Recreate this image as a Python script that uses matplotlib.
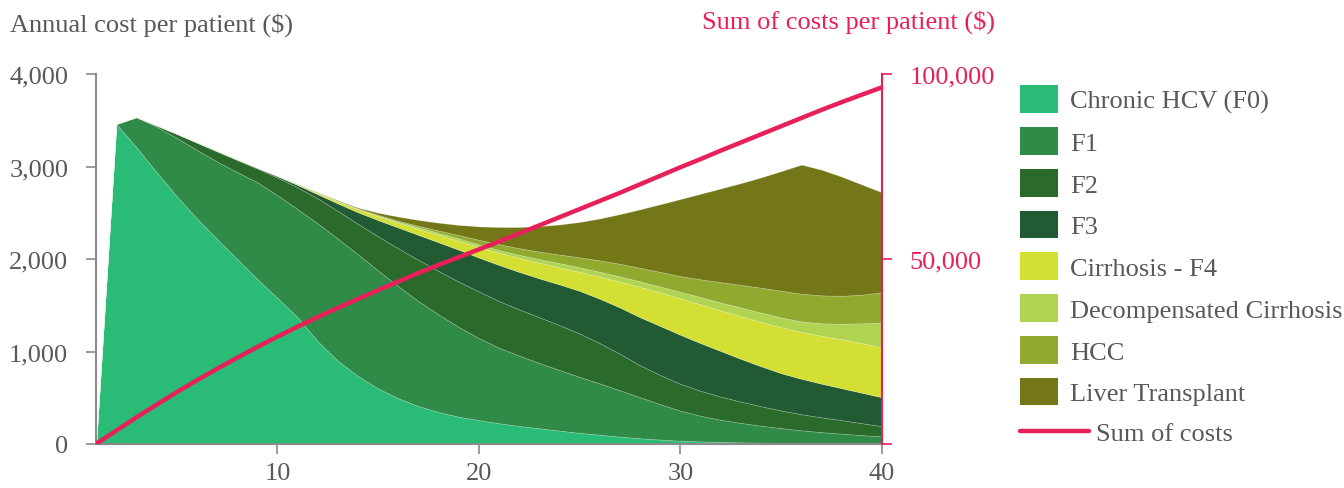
import matplotlib
matplotlib.use("Agg")
from matplotlib import pyplot as plt
from matplotlib.patches import Patch
from matplotlib.lines import Line2D
from matplotlib.ticker import FuncFormatter

plt.rcParams['font.family'] = ['Liberation Serif', 'DejaVu Serif']

years = list(range(1, 41))

# annual cost per patient by disease stage ($)
f0 = [0, 3460, 3210, 2940, 2680, 2440, 2216, 2000, 1784, 1580, 1370, 1110, 900, 735, 600, 495, 410, 345, 295, 258,
      225, 195, 170, 145, 120, 100, 80, 62, 48, 36, 28, 22, 18, 15, 13, 12, 11, 10, 9, 8]
f1 = [0, 0, 325, 490, 630, 740, 839, 940, 1046, 1110, 1170, 1275, 1320, 1315, 1275, 1210, 1135, 1055, 970, 887,
      815, 760, 705, 655, 605, 555, 500, 443, 382, 324, 277, 240, 210, 183, 159, 136, 117, 102, 87, 75]
f2 = [0, 0, 0, 15, 43, 78, 108, 130, 148, 190, 235, 270, 300, 330, 370, 410, 445, 470, 490, 503,
      505, 500, 495, 485, 470, 435, 395, 345, 315, 290, 270, 250, 230, 210, 190, 174, 160, 146, 129, 110]
f3 = [0, 0, 0, 0, 2, 3, 5, 5, 7, 15, 25, 45, 80, 125, 175, 225, 270, 310, 345, 367,
      390, 405, 420, 440, 460, 480, 500, 520, 530, 530, 515, 493, 462, 432, 403, 383, 364, 345, 329, 312]
f4 = [0, 0, 0, 0, 0, 1, 2, 3, 3, 3, 5, 12, 22, 30, 40, 50, 65, 80, 97, 115,
      133, 152, 170, 185, 205, 238, 280, 328, 363, 395, 420, 440, 462, 480, 497, 505, 518, 529, 536, 542]
decomp = [0, 0, 0, 0, 0, 0, 0, 0, 0, 1, 2, 3, 5, 7, 10, 13, 17, 22, 25, 27,
          29, 33, 38, 45, 50, 54, 57, 60, 64, 70, 78, 85, 93, 100, 106, 115, 135, 168, 215, 263]
hcc = [0, 0, 0, 0, 0, 0, 0, 0, 0, 1, 1, 2, 3, 5, 8, 10, 16, 26, 36, 51,
       63, 72, 82, 93, 108, 123, 136, 147, 158, 170, 192, 220, 245, 270, 289, 300, 302, 302, 310, 330]
transplant = [0, 0, 0, 0, 0, 0, 0, 0, 0, 0, 2, 3, 5, 8, 22, 45, 64, 84, 110, 144,
              185, 228, 275, 325, 382, 453, 537, 632, 732, 833, 925, 1012, 1100, 1192, 1293, 1395, 1358, 1288, 1190, 1080]

# running sum of costs per patient ($), right axis
sum_costs = [0, 3600, 7200, 10600, 14000, 17200, 20300, 23300, 26200, 29000, 31700, 34300, 36800, 39200, 41600,
             43900, 46200, 48400, 50500, 52600, 54700, 56900, 59100, 61300, 63500, 65700, 67900, 70200, 72500,
             74800, 77000, 79300, 81500, 83700, 85900, 88100, 90300, 92400, 94400, 96400]

labels = ["Chronic HCV (F0)", "F1", "F2", "F3", "Cirrhosis - F4", "Decompensated Cirrhosis", "HCC", "Liver Transplant"]
colors = ["#2abb76", "#2f8b47", "#2a6a2a", "#215a33", "#d4df33", "#b0d452", "#90aa30", "#737717"]
red = "#e8205a"
grey_txt = "#595959"
grey_ax = "#8a8a8a"
fs = 19

fig = plt.figure(figsize=(13.44, 4.89), dpi=100)
ax = fig.add_axes([96 / 1344, 1 - 445 / 489, (882 - 96) / 1344, (445 - 75) / 489])

polys = ax.stackplot(years, f0, f1, f2, f3, f4, decomp, hcc, transplant, colors=colors, linewidth=0.6)
for p in polys:
    p.set_edgecolor((1, 1, 1, 0.2))

ax.set_xlim(1, 40)
ax.set_ylim(0, 4000)
ax.set_xticks([10, 20, 30, 40])
ax.set_yticks([0, 1000, 2000, 3000, 4000])
ax.yaxis.set_major_formatter(FuncFormatter(lambda v, p: f"{int(v):,}"))
for s in ["top", "right"]:
    ax.spines[s].set_visible(False)
for s in ["left", "bottom"]:
    ax.spines[s].set_color(grey_ax)
    ax.spines[s].set_linewidth(1.5)
ax.tick_params(axis="y", colors=grey_ax, labelcolor=grey_txt, labelsize=fs, length=7, width=1.2, pad=13)
ax.tick_params(axis="x", colors=grey_ax, labelcolor=grey_txt, labelsize=fs, length=7, width=1.2, pad=6)

ax2 = ax.twinx()
ax2.plot(years, sum_costs, color=red, linewidth=3.2, solid_capstyle="round")
ax2.set_ylim(0, 100000)
ax2.set_yticks([0, 50000, 100000])
ax2.set_yticklabels(["", "50,000", "100,000"])
for s in ["top", "left", "bottom"]:
    ax2.spines[s].set_visible(False)
ax2.spines["right"].set_color(red)
ax2.spines["right"].set_linewidth(1.5)
ax2.tick_params(axis="y", colors=red, labelcolor=red, labelsize=fs, length=7, width=1.2, pad=13)

fig.text(10 / 1344, 1 - 25 / 489, "Annual cost per patient ($)", ha="left", va="center", color=grey_txt, fontsize=fs)
fig.text(995 / 1344, 1 - 22 / 489, "Sum of costs per patient ($)", ha="right", va="center", color=red, fontsize=fs)

handles = [Patch(facecolor=c, edgecolor="none") for c in colors]
fig.legend(handles, labels, loc="upper left", bbox_to_anchor=(1020 / 1344, 1 - 86 / 489), frameon=False,
           fontsize=fs, labelcolor=grey_txt, handlelength=1.44, handleheight=1.24, labelspacing=0.53,
           handletextpad=0.45, borderpad=0, borderaxespad=0)
fig.legend([Line2D([0], [0], color=red, linewidth=3.2, solid_capstyle="round")], ["Sum of costs"],
           loc="upper left", bbox_to_anchor=(1020 / 1344, 1 - 423 / 489), frameon=False,
           fontsize=fs, labelcolor=grey_txt, handlelength=2.6, handletextpad=0.27, borderpad=0, borderaxespad=0)

fig.savefig("out.png", dpi=100)
